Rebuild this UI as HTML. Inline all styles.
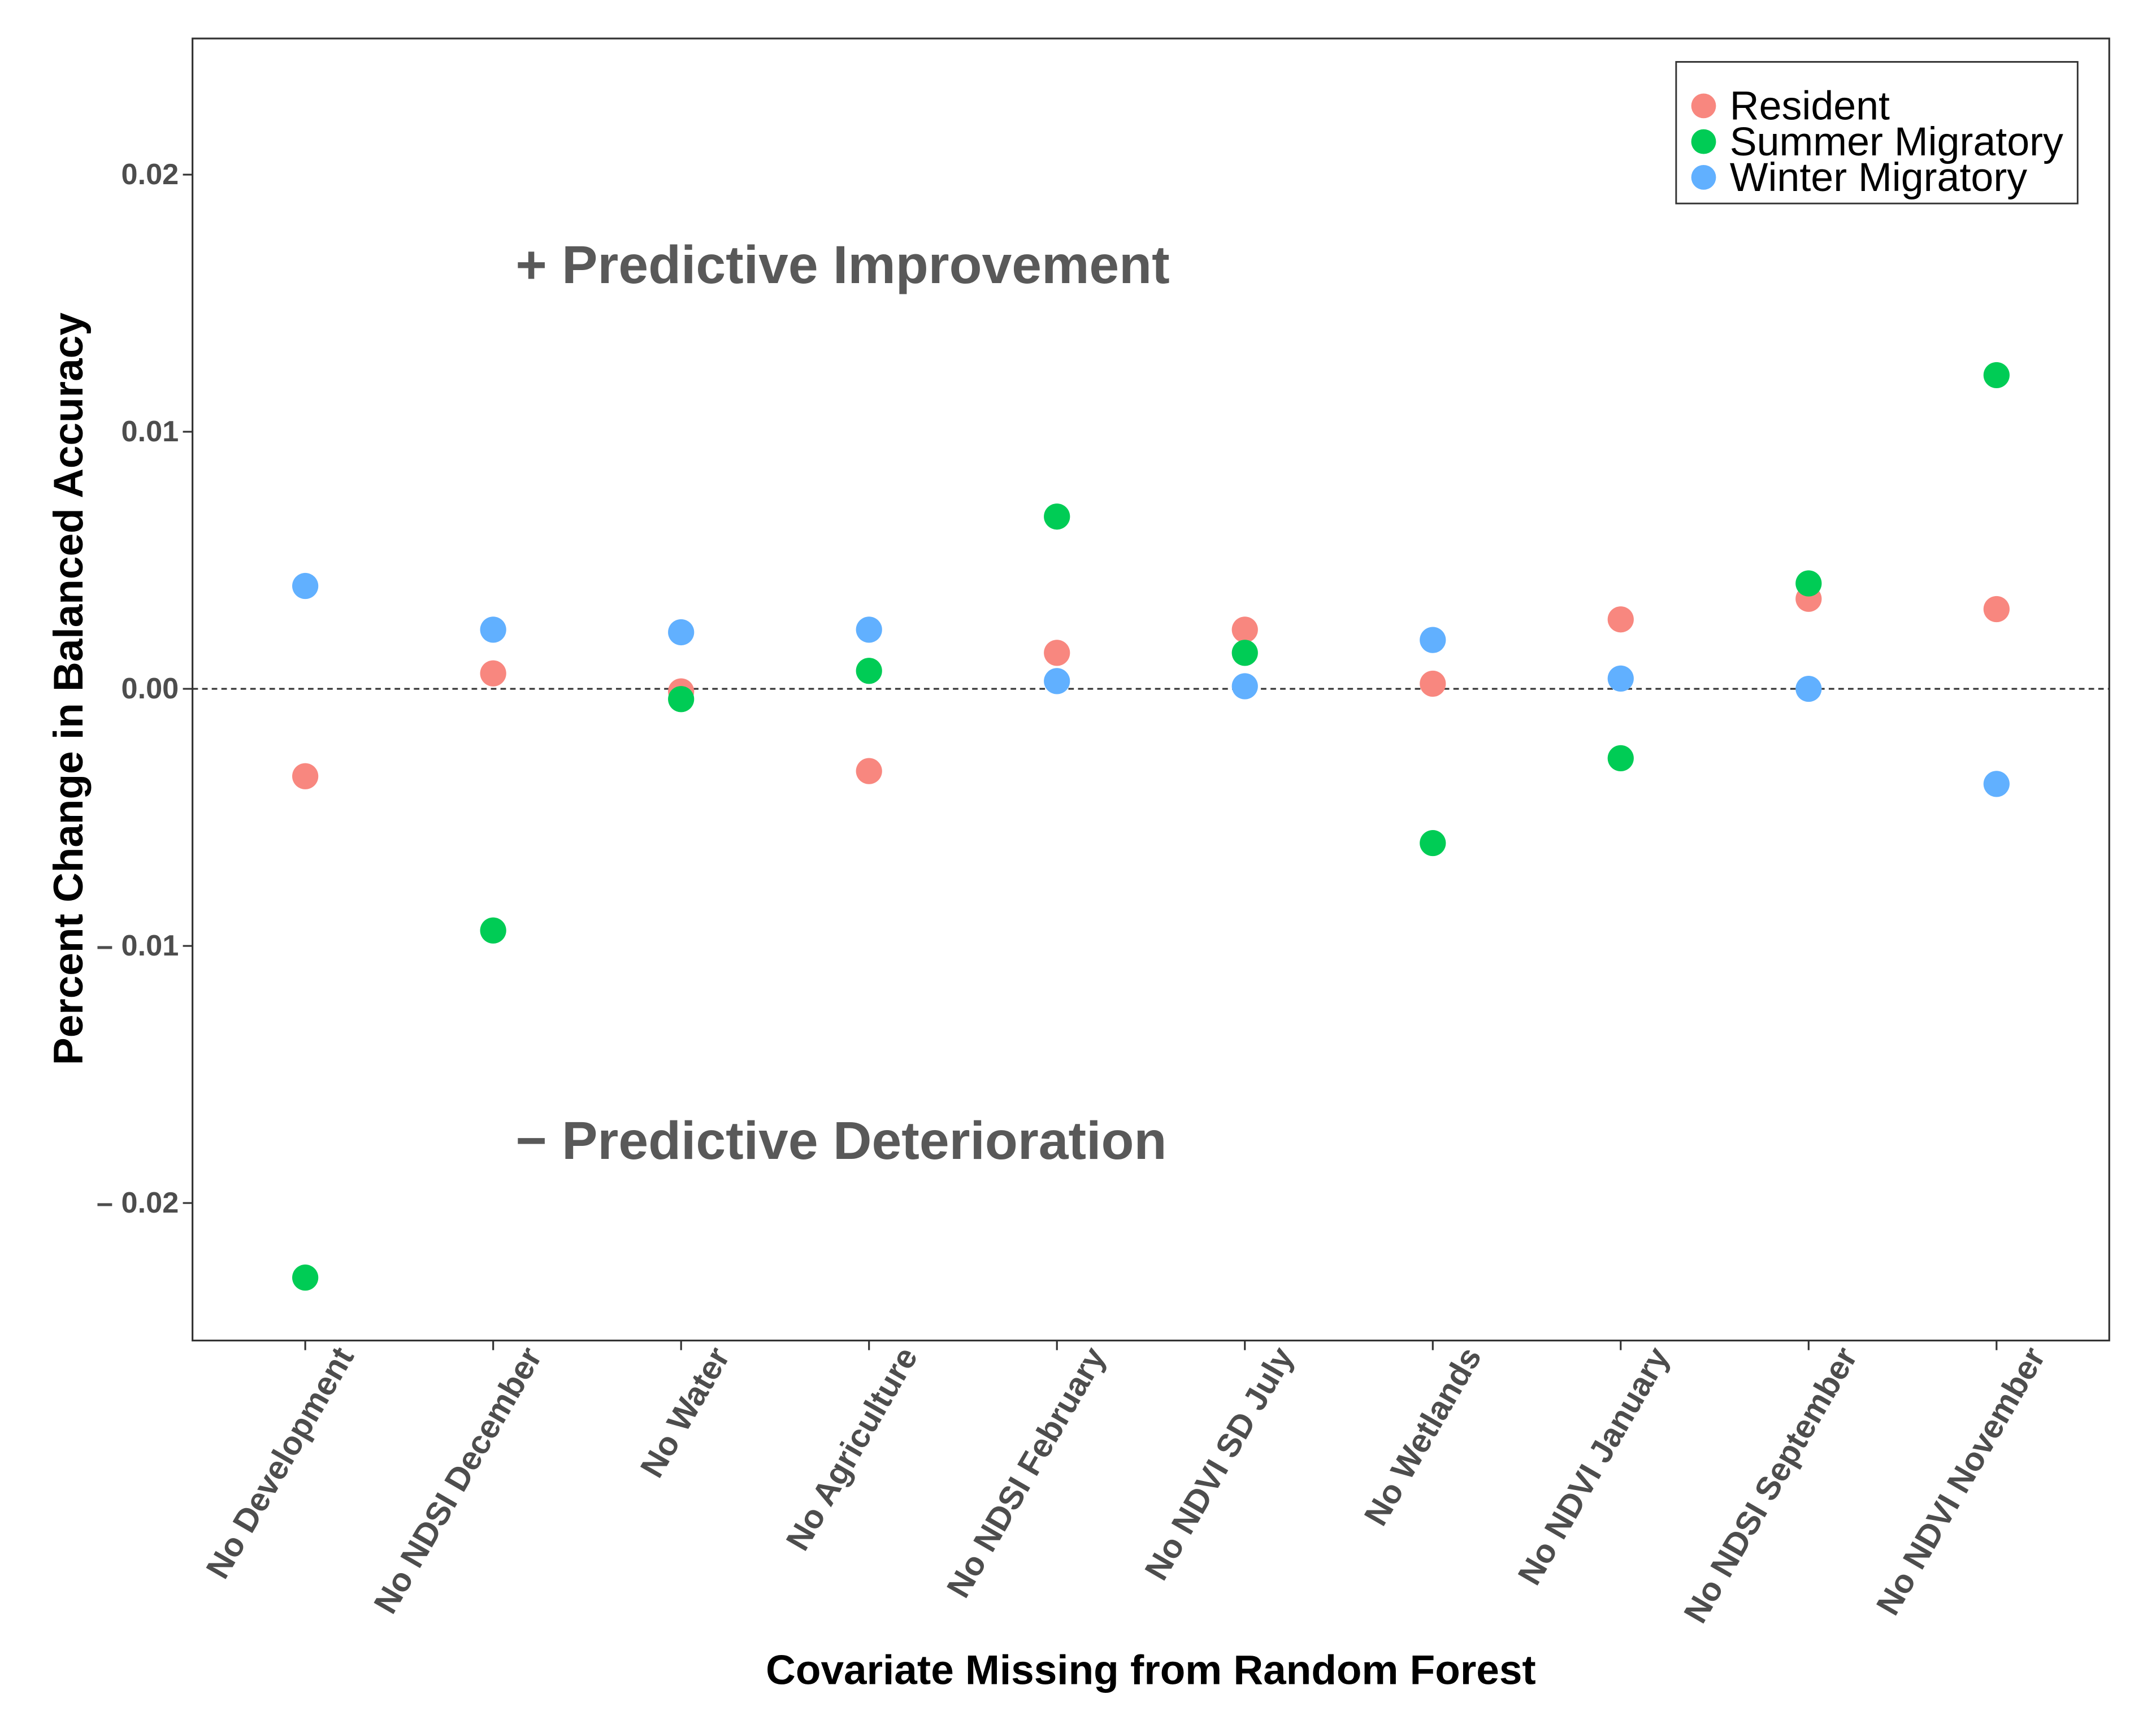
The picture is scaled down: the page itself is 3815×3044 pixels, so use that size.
<!DOCTYPE html>
<html><head><meta charset="utf-8">
<style>
html,body{margin:0;padding:0;background:#fff;}
svg{display:block;}
text{font-family:"Liberation Sans",Arial,sans-serif;}
</style></head>
<body>
<svg id="chart" width="3815" height="3044" viewBox="0 0 1568 1251" preserveAspectRatio="none" xmlns="http://www.w3.org/2000/svg">
<rect x="0" y="0" width="1568" height="1251" fill="#fff"/>
<rect x="140" y="28" width="1394" height="947" fill="#fff" stroke="#333" stroke-width="1.3"/>
<g id="yticks"></g>
<g id="xticks"></g>
<line id="zero" x1="140" x2="1534" stroke="#333" stroke-width="1.3" stroke-dasharray="4,3"/>
<text x="375" y="206" font-size="39" font-weight="bold" fill="#595959">+ Predictive Improvement</text>
<text x="375" y="843" font-size="39" font-weight="bold" fill="#595959">− Predictive Deterioration</text>
<g id="points"></g>
<text transform="translate(60,501) rotate(-90)" text-anchor="middle" font-size="30" font-weight="bold" fill="#000">Percent Change in Balanced Accuracy</text>
<text x="837" y="1225" text-anchor="middle" font-size="30" font-weight="bold" fill="#000">Covariate Missing from Random Forest</text>
<g>
<rect x="1219" y="45" width="292" height="103" fill="#fff" stroke="#333" stroke-width="1.2"/>
<g><circle cx="1239" cy="77" r="9" fill="#F8877F"/><text x="1258" y="87" font-size="29.5" fill="#000">Resident</text></g>
<g><circle cx="1239" cy="103" r="9" fill="#00CC55"/><text x="1258" y="113" font-size="29.5" fill="#000">Summer Migratory</text></g>
<g><circle cx="1239" cy="129" r="9" fill="#61B0FF"/><text x="1258" y="139" font-size="29.5" fill="#000">Winter Migratory</text></g>
</g>
</svg>
<script>
const categories = ["No Development","No NDSI December","No Water","No Agriculture","No NDSI February","No NDVI SD July","No Wetlands","No NDVI January","No NDSI September","No NDVI November"];
const resident = [-0.0034,0.0006,-0.0001,-0.0032,0.0014,0.0023,0.0002,0.0027,0.0035,0.0031];
const summer = [-0.0229,-0.0094,-0.0004,0.0007,0.0067,0.0014,-0.0060,-0.0027,0.0041,0.0122];
const winter = [0.0040,0.0023,0.0022,0.0023,0.0003,0.0001,0.0019,0.0004,0.0000,-0.0037];
const yTicks = [0.02,0.01,0,-0.01,-0.02];
const yTickLabels = ["0.02","0.01","0.00","– 0.01","– 0.02"];

const NS = "http://www.w3.org/2000/svg";
function y(v){ return 501 - v * 18700; }
function x(i){ return 222 + i * 136.67; }

document.getElementById('zero').setAttribute('y1', y(0));
document.getElementById('zero').setAttribute('y2', y(0));

const yt = document.getElementById('yticks');
yTicks.forEach((v,i)=>{
  const l = document.createElementNS(NS,'line');
  
  
  l.setAttribute('x1',133); l.setAttribute('x2',140);
  l.setAttribute('y1',y(v)); l.setAttribute('y2',y(v));
  l.setAttribute('stroke','#333'); l.setAttribute('stroke-width','1.3');
  yt.appendChild(l);
  const t = document.createElementNS(NS,'text');
  
  
  t.setAttribute('x',130); t.setAttribute('y',y(v)+7);
  t.setAttribute('text-anchor','end'); t.setAttribute('font-size','21.5');
  t.setAttribute('font-weight','bold'); t.setAttribute('fill','#4d4d4d');
  t.textContent = yTickLabels[i];
  yt.appendChild(t);
});

const xt = document.getElementById('xticks');
categories.forEach((c,i)=>{
  const l = document.createElementNS(NS,'line');
  
  
  l.setAttribute('x1',x(i)); l.setAttribute('x2',x(i));
  l.setAttribute('y1',975); l.setAttribute('y2',982);
  l.setAttribute('stroke','#333'); l.setAttribute('stroke-width','1.3');
  xt.appendChild(l);
  const t = document.createElementNS(NS,'text');
  
  
  t.setAttribute('transform','translate('+(x(i)+36)+',986) rotate(-60)');
  t.setAttribute('text-anchor','end'); t.setAttribute('font-size','24');
  t.setAttribute('font-weight','bold'); t.setAttribute('fill','#4d4d4d');
  t.textContent = c;
  xt.appendChild(t);
});

const pts = document.getElementById('points');
const series = [[resident,'#F8877F','point-resident'],[summer,'#00CC55','point-summer'],[winter,'#61B0FF','point-winter']];
series.forEach(s=>{
  s[0].forEach((v,i)=>{
    const c = document.createElementNS(NS,'circle');
    
    
    c.setAttribute('cx',x(i)); c.setAttribute('cy',y(v));
    c.setAttribute('r',9.5); c.setAttribute('fill',s[1]);
    pts.appendChild(c);
  });
});
</script>
</body></html>
